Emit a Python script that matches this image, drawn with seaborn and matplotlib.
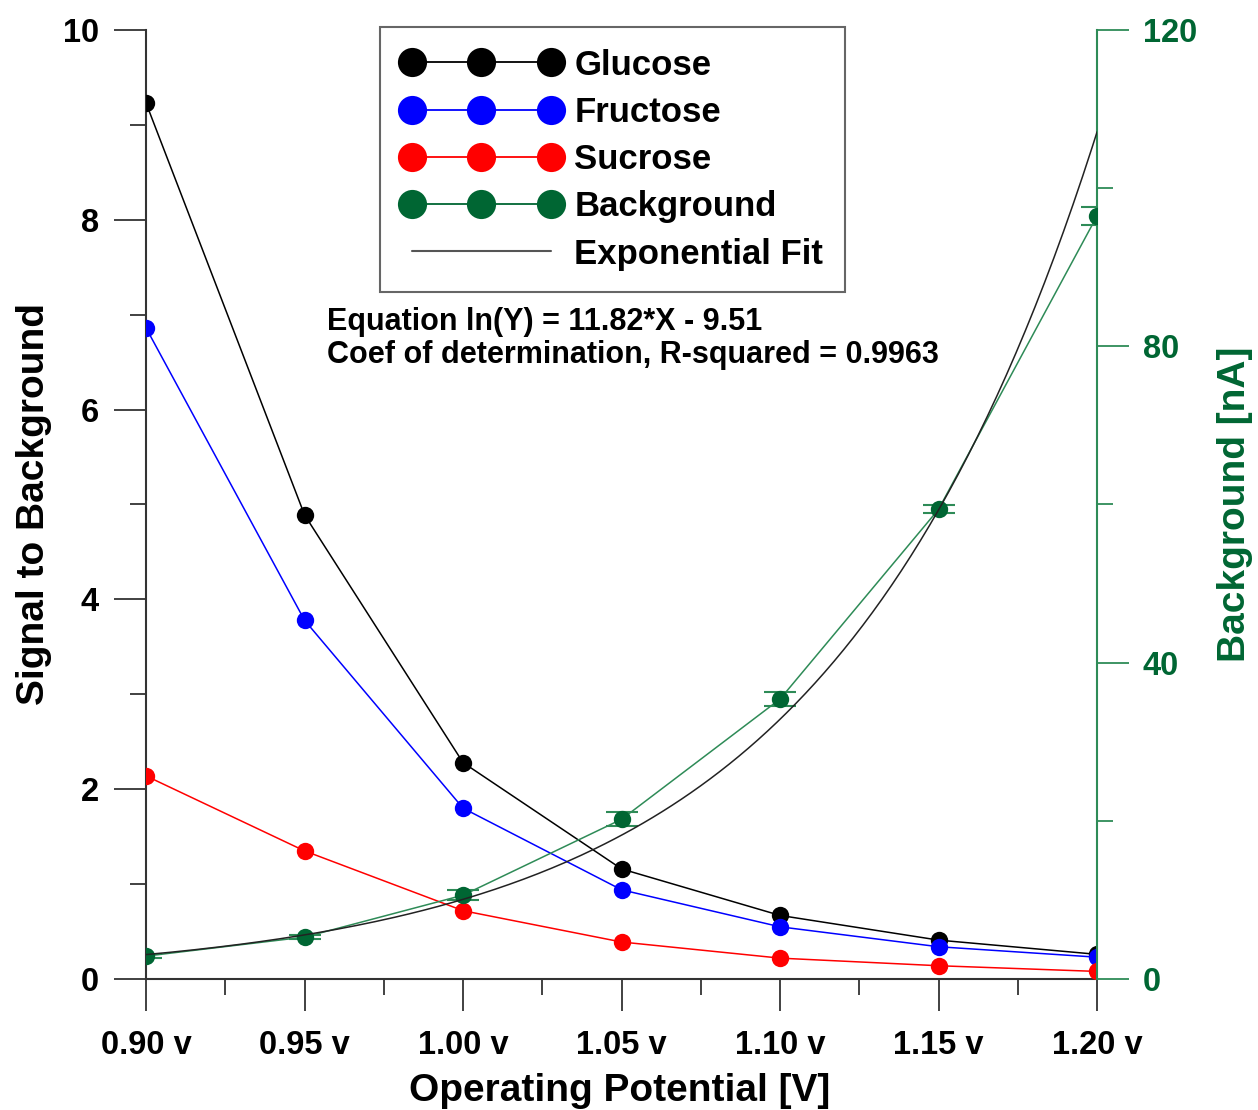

import numpy as np
import pandas as pd
import matplotlib
matplotlib.use("Agg")
import matplotlib.pyplot as plt
from matplotlib.lines import Line2D
from matplotlib.ticker import MultipleLocator
import seaborn as sns

# data
potential = [0.90, 0.95, 1.00, 1.05, 1.10, 1.15, 1.20]
tick_labels = ["0.90 v", "0.95 v", "1.00 v", "1.05 v", "1.10 v", "1.15 v", "1.20 v"]
glucose = [9.23, 4.89, 2.28, 1.16, 0.67, 0.41, 0.26]
fructose = [6.86, 3.78, 1.80, 0.94, 0.55, 0.34, 0.23]
sucrose = [2.14, 1.35, 0.72, 0.39, 0.22, 0.14, 0.08]
background = [2.9, 5.3, 10.6, 20.2, 35.4, 59.4, 96.5]
background_err = [0.3, 0.3, 0.6, 0.9, 0.9, 0.5, 1.1]

# exponential fit shown on the chart: ln(Y) = a*X + b
fit_a = 11.82
fit_b = -9.51

GREEN_DARK = "#006633"
GREEN = "#2E8B57"

sns.set_style("ticks")
plt.rcParams["font.family"] = ["Liberation Sans", "DejaVu Sans"]
plt.rcParams["font.weight"] = "bold"
plt.rcParams["text.color"] = "black"
plt.rcParams["axes.labelcolor"] = "black"
plt.rcParams["xtick.color"] = "black"
plt.rcParams["ytick.color"] = "black"

fig = plt.figure(figsize=(12.58, 11.10), dpi=100)
ax = fig.add_axes([0.1161, 0.118, 0.756, 0.855])
ax2 = ax.twinx()

df = pd.DataFrame({"x": potential, "Glucose": glucose, "Fructose": fructose,
                   "Sucrose": sucrose, "Background": background})

for name, col in [("Glucose", "black"), ("Fructose", "#0000FF"), ("Sucrose", "#FF0000")]:
    sns.lineplot(data=df, x="x", y=name, ax=ax, color=col, marker="o", markersize=12.5,
                 markeredgewidth=0, linewidth=1.1, zorder=3)

# background on right axis
ax2.errorbar(potential, background, yerr=background_err, fmt="none", ecolor=GREEN,
             elinewidth=1.5, capsize=11.5, capthick=1.5, zorder=2)
sns.lineplot(data=df, x="x", y="Background", ax=ax2, color=GREEN, marker="o", markersize=12.5,
             markeredgewidth=0, markerfacecolor=GREEN_DARK, linewidth=1.1, zorder=3)

xfit = np.linspace(potential[0], potential[-1], 200)
ax2.plot(xfit, np.exp(fit_a * xfit + fit_b), color="#222222", linewidth=1.1, zorder=4)

# axes limits & ticks
ax.set_xlim(0.90, 1.20)
ax.set_ylim(0, 10)
ax2.set_ylim(0, 120)
ax.set_xticks(potential)
ax.set_xticklabels(tick_labels)
ax.xaxis.set_minor_locator(MultipleLocator(0.025))
ax.yaxis.set_major_locator(MultipleLocator(2))
ax.yaxis.set_minor_locator(MultipleLocator(1))
ax2.yaxis.set_major_locator(MultipleLocator(40))
ax2.yaxis.set_minor_locator(MultipleLocator(20))

for a in (ax, ax2):
    a.spines["top"].set_visible(False)
ax2.spines["left"].set_visible(False)
ax2.spines["bottom"].set_visible(False)
ax.spines["right"].set_visible(False)
for s in ("left", "bottom"):
    ax.spines[s].set_color("#333333")
    ax.spines[s].set_linewidth(1.5)
ax2.spines["right"].set_color(GREEN)
ax2.spines["right"].set_linewidth(1.5)

ax.tick_params(axis="both", which="major", direction="out", length=23, width=1.3,
               color="#333333", labelcolor="black", labelsize=23.5)
ax.tick_params(axis="x", which="major", pad=14)
ax.tick_params(axis="y", which="major", pad=11)
ax.tick_params(axis="both", which="minor", direction="out", length=11.5, width=1.3,
               color="#333333")
ax2.tick_params(axis="y", which="major", direction="out", length=23, width=1.3,
                color=GREEN, labelcolor=GREEN_DARK, labelsize=23.5, pad=10)
ax2.tick_params(axis="y", which="minor", direction="out", length=11.5, width=1.3, color=GREEN)
for lab in ax.get_xticklabels() + ax.get_yticklabels() + ax2.get_yticklabels():
    lab.set_fontweight("bold")

ax.set_xlabel("Operating Potential [V]", fontsize=28, fontweight="bold")
ax.set_ylabel("Signal to Background", fontsize=28, fontweight="bold")
ax2.set_ylabel("Background [nA]", fontsize=28, fontweight="bold", color=GREEN_DARK)
ax.xaxis.set_label_coords(0.498, -0.099)
ax.yaxis.set_label_coords(-0.099, 0.5)
ax2.yaxis.set_label_coords(1.126, 0.5)

ax.text(0.190, 0.692, "Equation ln(Y) = 11.82*X - 9.51", transform=ax.transAxes,
        fontsize=22, fontweight="bold", va="center", ha="left")
ax.text(0.190, 0.657, "Coef of determination, R-squared = 0.9963", transform=ax.transAxes,
        fontsize=22, fontweight="bold", va="center", ha="left")

handles = [
    Line2D([], [], color="black", marker="o", markersize=21, markeredgewidth=0, lw=1.3),
    Line2D([], [], color="#0000FF", marker="o", markersize=21, markeredgewidth=0, lw=1.3),
    Line2D([], [], color="#FF0000", marker="o", markersize=21, markeredgewidth=0, lw=1.3),
    Line2D([], [], color=GREEN_DARK, marker="o", markersize=21, markeredgewidth=0, lw=1.3),
    Line2D([], [], color="#555555", lw=1.5),
]
labels = ["Glucose", "Fructose", "Sucrose", "Background", "Exponential Fit"]
leg = ax2.legend(handles, labels, loc="upper left", bbox_to_anchor=(0.246, 1.003),
                 numpoints=3, handlelength=4.6, handletextpad=0.38,
                 labelspacing=0.41, borderpad=0.62, borderaxespad=0, fancybox=False,
                 framealpha=1, edgecolor="#666666", prop={"weight": "bold", "size": 25})
leg.get_frame().set_linewidth(1.5)

fig.savefig("out.png", dpi=100)
